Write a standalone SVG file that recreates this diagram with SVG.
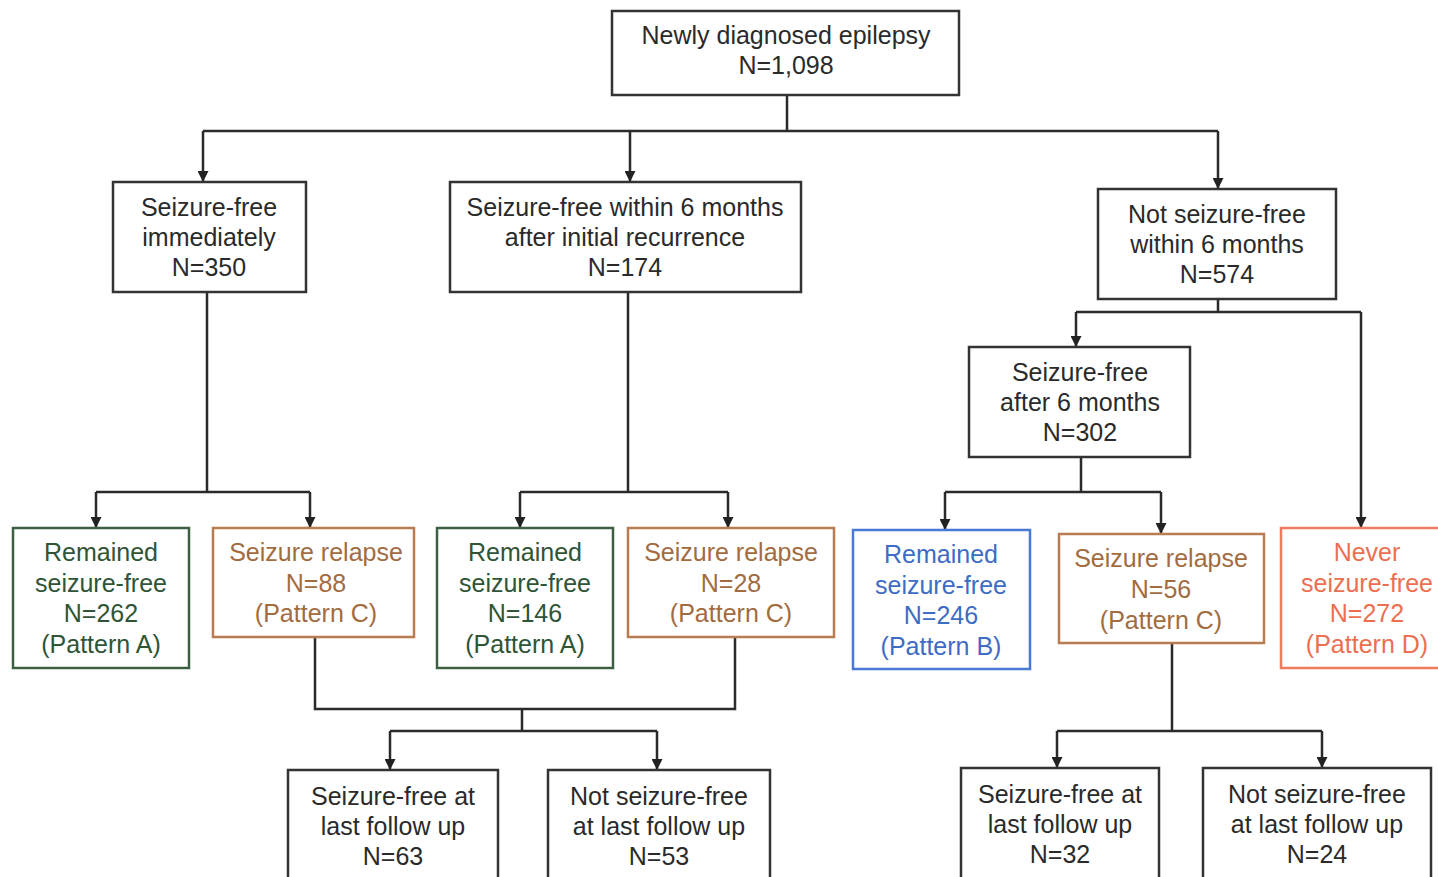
<svg xmlns="http://www.w3.org/2000/svg" width="1438" height="877" viewBox="0 0 1438 877">
<defs>
<marker id="arr" viewBox="0 0 10 10" refX="10" refY="5" markerWidth="11" markerHeight="11" markerUnits="userSpaceOnUse" orient="auto">
<path d="M0,0 L10,5 L0,10 z" fill="#222"/>
</marker>
</defs>
<style>
text{font-family:"Liberation Sans",Arial,sans-serif;font-size:25px;text-anchor:middle;fill:#2a2a2a}
rect{fill:#fff;stroke-width:2.5}
.k rect{stroke:#333}
.g rect{stroke:#3d5f44} .g text{fill:#2f5436}
.o rect{stroke:#b97c52} .o text{fill:#a26b40}
.b rect{stroke:#4a78d6} .b text{fill:#3e6cc4}
.r rect{stroke:#f07a5c} .r text{fill:#ec6f4f}
.c{fill:none;stroke:#2a2a2a;stroke-width:2.5}
.a{marker-end:url(#arr)}
</style>
<rect x="0" y="0" width="1438" height="877" style="fill:#fff;stroke:none"/>
<g id="connectors">
<path class="c" d="M787,95 V131 M203,131 H1218"/>
<path class="c a" d="M203,131 V182"/>
<path class="c a" d="M630,131 V182"/>
<path class="c a" d="M1218,131 V189"/>
<path class="c" d="M207,292 V492 M96,492 H310"/>
<path class="c a" d="M96,492 V528"/>
<path class="c a" d="M310,492 V528"/>
<path class="c" d="M628,292 V492 M520,492 H728"/>
<path class="c a" d="M520,492 V528"/>
<path class="c a" d="M728,492 V528"/>
<path class="c" d="M315,637 V709 H735 V637 M522,709 V731 M390,731 H657"/>
<path class="c a" d="M390,731 V770"/>
<path class="c a" d="M657,731 V770"/>
<path class="c" d="M1218,299 V312 M1076,312 H1361"/>
<path class="c a" d="M1076,312 V347"/>
<path class="c a" d="M1361,312 V528"/>
<path class="c" d="M1081,457 V492 M945,492 H1161"/>
<path class="c a" d="M945,492 V530"/>
<path class="c a" d="M1161,492 V534"/>
<path class="c" d="M1172,643 V731 M1057,731 H1322"/>
<path class="c a" d="M1057,731 V768"/>
<path class="c a" d="M1322,731 V768"/>
</g>
<g id="root" class="k"><rect x="612" y="11" width="347" height="84"/><text x="786" y="44">Newly diagnosed epilepsy</text><text x="786" y="74">N=1,098</text></g>
<g id="sf-immediately" class="k"><rect x="113" y="182" width="193" height="110"/><text x="209" y="216">Seizure-free</text><text x="209" y="246">immediately</text><text x="209" y="276">N=350</text></g>
<g id="sf-within6" class="k"><rect x="450" y="182" width="351" height="110"/><text x="625" y="216">Seizure-free within 6 months</text><text x="625" y="246">after initial recurrence</text><text x="625" y="276">N=174</text></g>
<g id="not-sf-within6" class="k"><rect x="1098" y="189" width="238" height="110"/><text x="1217" y="223">Not seizure-free</text><text x="1217" y="253">within 6 months</text><text x="1217" y="283">N=574</text></g>
<g id="sf-after6" class="k"><rect x="969" y="347" width="221" height="110"/><text x="1080" y="381">Seizure-free</text><text x="1080" y="411">after 6 months</text><text x="1080" y="441">N=302</text></g>
<g id="remained-a1" class="g"><rect x="13" y="528" width="176" height="140"/><text x="101" y="561">Remained</text><text x="101" y="592">seizure-free</text><text x="101" y="622">N=262</text><text x="101" y="653">(Pattern A)</text></g>
<g id="relapse-c1" class="o"><rect x="213" y="528" width="201" height="109"/><text x="316" y="561">Seizure relapse</text><text x="316" y="592">N=88</text><text x="316" y="622">(Pattern C)</text></g>
<g id="remained-a2" class="g"><rect x="437" y="528" width="176" height="140"/><text x="525" y="561">Remained</text><text x="525" y="592">seizure-free</text><text x="525" y="622">N=146</text><text x="525" y="653">(Pattern A)</text></g>
<g id="relapse-c2" class="o"><rect x="628" y="528" width="206" height="109"/><text x="731" y="561">Seizure relapse</text><text x="731" y="592">N=28</text><text x="731" y="622">(Pattern C)</text></g>
<g id="remained-b" class="b"><rect x="853" y="530" width="177" height="139"/><text x="941" y="563">Remained</text><text x="941" y="594">seizure-free</text><text x="941" y="624">N=246</text><text x="941" y="655">(Pattern B)</text></g>
<g id="relapse-c3" class="o"><rect x="1059" y="534" width="205" height="109"/><text x="1161" y="567">Seizure relapse</text><text x="1161" y="598">N=56</text><text x="1161" y="629">(Pattern C)</text></g>
<g id="never-d" class="r"><rect x="1281" y="528" width="180" height="140"/><text x="1367" y="561">Never</text><text x="1367" y="592">seizure-free</text><text x="1367" y="622">N=272</text><text x="1367" y="653">(Pattern D)</text></g>
<g id="sf-last-1" class="k"><rect x="288" y="770" width="210" height="130"/><text x="393" y="805">Seizure-free at</text><text x="393" y="835">last follow up</text><text x="393" y="865">N=63</text></g>
<g id="nsf-last-1" class="k"><rect x="548" y="770" width="222" height="130"/><text x="659" y="805">Not seizure-free</text><text x="659" y="835">at last follow up</text><text x="659" y="865">N=53</text></g>
<g id="sf-last-2" class="k"><rect x="961" y="768" width="198" height="130"/><text x="1060" y="803">Seizure-free at</text><text x="1060" y="833">last follow up</text><text x="1060" y="863">N=32</text></g>
<g id="nsf-last-2" class="k"><rect x="1203" y="768" width="228" height="130"/><text x="1317" y="803">Not seizure-free</text><text x="1317" y="833">at last follow up</text><text x="1317" y="863">N=24</text></g>
</svg>
